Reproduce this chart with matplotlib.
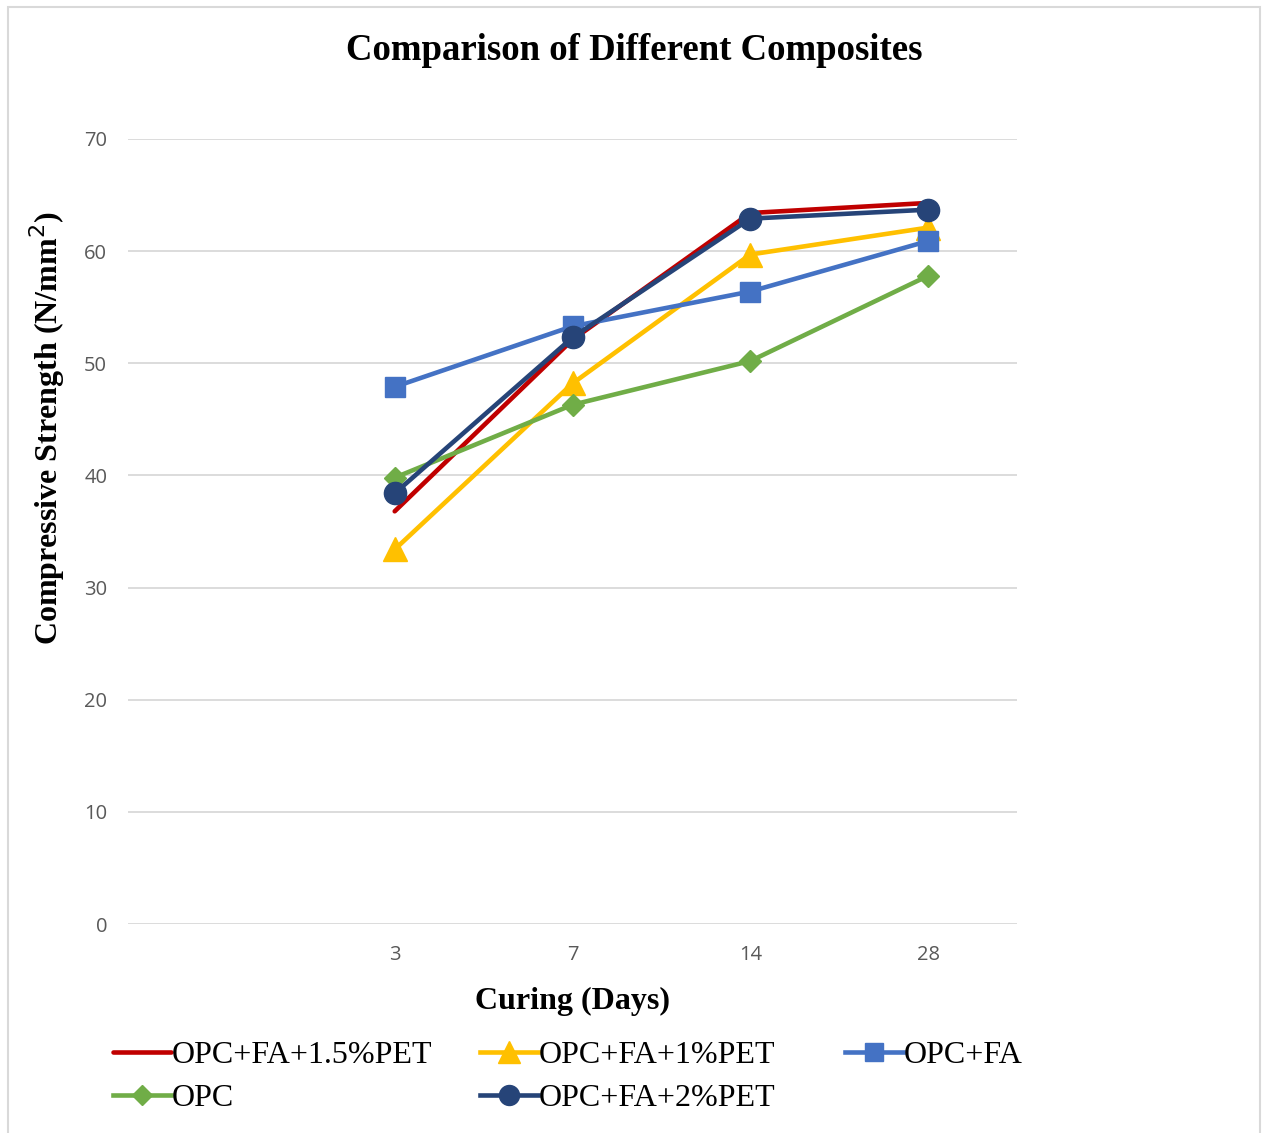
import matplotlib
matplotlib.use('Agg')

from matplotlib import pyplot as plt
from matplotlib.patches import Rectangle

plt.rcParams['axes.unicode_minus'] = False

# curing age (days) and compressive strength of each mix (N/mm2)
days = ['3', '7', '14', '28']
opc_fa_15pet = [36.8, 52.1, 63.4, 64.3]
opc_fa_1pet = [33.4, 48.2, 59.7, 62.1]
opc_fa = [47.9, 53.3, 56.4, 60.9]
opc = [39.8, 46.3, 50.2, 57.8]
opc_fa_2pet = [38.4, 52.3, 62.9, 63.7]

serif = ['Liberation Serif', 'DejaVu Serif']
tick_font = ['Open Sans', 'DejaVu Sans']

W, H = 1263, 1133
fig = plt.figure(figsize=(W / 100, H / 100), dpi=100)
ax = fig.add_axes([128 / W, 1 - 924 / H, (1017 - 128) / W, (924 - 139) / H])

# first category slot is left empty, so the days sit at 1..4
xs = list(range(1, len(days) + 1))

lw = 3.3
l_red, = ax.plot(xs, opc_fa_15pet, color='#c00000', lw=lw, label='OPC+FA+1.5%PET',
                 solid_capstyle='round', zorder=3)
l_yel, = ax.plot(xs, opc_fa_1pet, color='#ffc000', lw=lw, marker='^', ms=17,
                 label='OPC+FA+1%PET', zorder=3)
l_blu, = ax.plot(xs, opc_fa, color='#4472c4', lw=lw, marker='s', ms=15,
                 label='OPC+FA', zorder=3)
l_grn, = ax.plot(xs, opc, color='#70ad47', lw=lw, marker='D', ms=11,
                 label='OPC', zorder=3)
l_nav, = ax.plot(xs, opc_fa_2pet, color='#264478', lw=lw, marker='o', ms=16,
                 label='OPC+FA+2%PET', zorder=4)

ax.set_xlim(-0.5, 4.5)
ax.set_ylim(0, 70)
ax.set_xticks(xs)
ax.set_xticklabels(days)
ax.set_yticks(range(0, 71, 10))
ax.grid(axis='y', color='#d9d9d9', lw=1.3)
ax.set_axisbelow(True)
for s in ax.spines.values():
    s.set_visible(False)
ax.tick_params(length=0, labelsize=14.5, labelcolor='#595959')
ax.tick_params(axis='y', pad=15)
ax.tick_params(axis='x', pad=15)
for lab in ax.get_xticklabels() + ax.get_yticklabels():
    lab.set_family(tick_font)

fig.text(634 / W, 1 - 50 / H, 'Comparison of Different Composites', family=serif,
         fontsize=26.5, fontweight='bold', ha='center', va='center')
ax.set_xlabel('Curing (Days)', family=serif, fontsize=23, fontweight='bold',
              labelpad=16)
fig.text(47 / W, 1 - 428 / H, 'Compressive Strength (N/mm$^{2}$)', family=serif,
         fontsize=23, fontweight='bold', rotation=90, ha='center', va='center')

# one legend per column so each column starts where it should
columns = [([l_red, l_grn], 113), ([l_yel, l_nav], 480), ([l_blu], 845)]
for handles, x0 in columns:
    fig.legend(handles=handles, labels=[h.get_label() for h in handles],
               loc='upper left', bbox_to_anchor=(x0 / W, 1 - 1041 / H),
               frameon=False, prop={'family': serif, 'size': 23},
               handlelength=1.8, handletextpad=0.05, labelspacing=0.42,
               borderpad=0, borderaxespad=0, markerscale=0.9)

fig.add_artist(Rectangle((8 / W, -0.01), (1260 - 8) / W, 1.01 - 7 / H,
                         transform=fig.transFigure, fill=False, ec='#d9d9d9',
                         lw=1.5))

plt.savefig('out.png', dpi=100)
plt.close()
